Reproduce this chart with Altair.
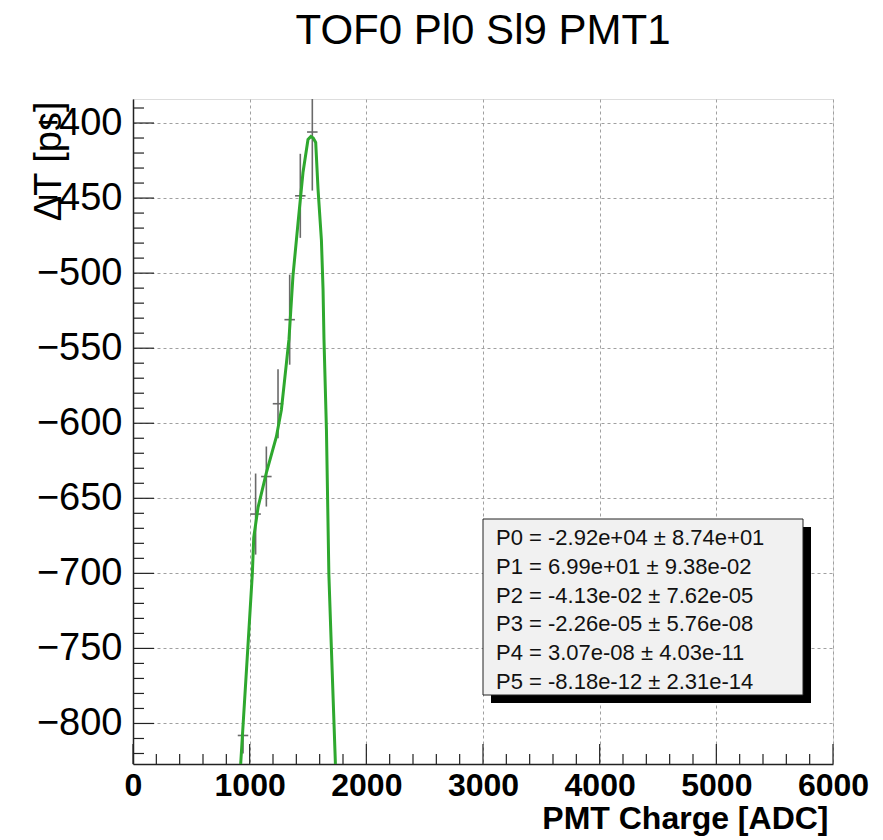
import altair as alt
import pandas as pd

# Profile points: mean PMT charge, mean time offset, error on the mean
pt_x = [943, 1051, 1143, 1243, 1343, 1434, 1537]
pt_y = [-808, -660.5, -635.5, -587, -531, -448.5, -406]
pt_err = [12, 27, 20, 23, 30, 28, 39]
pt_xerr = [45, 45, 45, 45, 45, 45, 45]

# pol5 fit curve sampled along the plotted range
fit_x = [923, 984, 1023, 1035, 1072, 1143, 1229, 1272, 1315, 1337, 1371, 1414,
         1457, 1500, 1525, 1545, 1566, 1586, 1615, 1629, 1637, 1658, 1679, 1700, 1735]
fit_y = [-827, -750, -700, -676, -656, -633, -609, -591, -560, -544, -502, -467,
         -433, -411, -409, -410, -413, -444, -478, -511, -544, -604, -701, -749, -827]

# Fit parameters and their errors
par_names = ["P0", "P1", "P2", "P3", "P4", "P5"]
par_vals = [-2.92e+04, 6.99e+01, -4.13e-02, -2.26e-05, 3.07e-08, -8.18e-12]
par_errs = [8.74e+01, 9.38e-02, 7.62e-05, 5.76e-08, 4.03e-11, 2.31e-14]

# Axis tick values
x_major = [0, 1000, 2000, 3000, 4000, 5000, 6000]
x_minor = [v for v in range(200, 6000, 200) if v % 1000]
y_major = [-800, -750, -700, -650, -600, -550, -500, -450, -400]
y_minor = [v for v in range(-820, -385, 10) if v % 50]

W, H = 700, 665
FONT = "Liberation Sans"

points = pd.DataFrame({"x": pt_x, "y": pt_y, "err": pt_err, "xerr": pt_xerr})
points["lo"] = points["y"] - points["err"]
points["hi"] = points["y"] + points["err"]
points["xl"] = points["x"] - points["xerr"]
points["xh"] = points["x"] + points["xerr"]
fit = pd.DataFrame({"x": fit_x, "y": fit_y})

xs = alt.Scale(domain=[0, 6000], nice=False, zero=False)
ys = alt.Scale(domain=[-827, -384], nice=False, zero=False)

x_axis = alt.Axis(
    values=x_major, format="d", title="PMT Charge [ADC]", ticks=False, domain=True,
    domainColor="#222", domainWidth=1.5,
    labelFont=FONT, labelFontSize=32, labelFontWeight="bold", labelColor="#000",
    labelPadding=6, labelFlush=False, labelOverlap=False,
    titleFont=FONT, titleFontSize=32, titleFontWeight="bold", titleColor="#000",
    titleAnchor="end", titleAlign="right", titleBaseline="alphabetic",
    titleX=W - 5, titleY=64,
    grid=True, gridColor="#a0a0a0", gridDash=[3, 3], gridWidth=1,
)
y_axis = alt.Axis(
    values=y_major, title="ΔT [ps]", ticks=False, domain=True,
    domainColor="#222", domainWidth=1.5,
    labelFont=FONT, labelFontSize=38, labelColor="#000", labelPadding=11,
    labelFlush=False, labelOverlap=False,
    titleFont=FONT, titleFontSize=38, titleFontWeight="normal", titleColor="#000",
    titleAngle=270, titleAlign="right", titleBaseline="top",
    titleX=-103, titleY=2,
    grid=True, gridColor="#a0a0a0", gridDash=[3, 3], gridWidth=1,
)

X = lambda f: alt.X(f, type="quantitative", scale=xs, axis=x_axis)
Y = lambda f: alt.Y(f, type="quantitative", scale=ys, axis=y_axis)

# Vertical and horizontal error bars
err_v = alt.Chart(points).mark_rule(color="#6a6a6a", strokeWidth=1.6, clip=True).encode(
    x=X("x"), y=Y("lo"), y2="hi")
err_h = alt.Chart(points).mark_rule(color="#6a6a6a", strokeWidth=1.6, clip=True).encode(
    x=X("xl"), x2="xh", y=Y("y"))

curve = alt.Chart(fit).mark_line(color="#2ea82e", strokeWidth=3, clip=True).encode(
    x=X("x"), y=Y("y"), order="x:Q")

# Inward ticks on the left and bottom edges
yt_major = alt.Chart(pd.DataFrame({"v": y_major})).mark_rule(color="#222", strokeWidth=1.2).encode(
    y=Y("v"), x=alt.value(0), x2=alt.value(21))
yt_minor = alt.Chart(pd.DataFrame({"v": y_minor})).mark_rule(color="#222", strokeWidth=1.2).encode(
    y=Y("v"), x=alt.value(0), x2=alt.value(11))
xt_major = alt.Chart(pd.DataFrame({"v": x_major})).mark_rule(color="#222", strokeWidth=1.2).encode(
    x=X("v"), y=alt.value(H), y2=alt.value(H - 20))
xt_minor = alt.Chart(pd.DataFrame({"v": x_minor})).mark_rule(color="#222", strokeWidth=1.2).encode(
    x=X("v"), y=alt.value(H), y2=alt.value(H - 10))

# Fit statistics box with drop shadow
stats_text = "\n".join(
    f"{n} = {v:.2e} \u00b1 {e:.2e}" for n, v, e in zip(par_names, par_vals, par_errs))
box_df = pd.DataFrame({"t": [stats_text]})
shadow = alt.Chart(box_df).mark_rect(color="#000").encode(
    x=alt.value(358), x2=alt.value(678), y=alt.value(428), y2=alt.value(604))
box = alt.Chart(box_df).mark_rect(fill="#f1f1f1", stroke="#222", strokeWidth=1).encode(
    x=alt.value(350), x2=alt.value(670), y=alt.value(420), y2=alt.value(596))
text = alt.Chart(box_df).mark_text(
    align="left", baseline="middle", font=FONT, fontSize=22, color="#111",
    lineBreak="\n", lineHeight=28.8,
).encode(x=alt.value(363), y=alt.value(439), text="t:N")

chart = alt.layer(
    err_v, err_h, curve, yt_major, yt_minor, xt_major, xt_minor, shadow, box, text
).properties(
    width=W, height=H,
    title=alt.TitleParams("TOF0 Pl0 Sl9 PMT1", font=FONT, fontSize=42,
                          fontWeight="normal", color="#000", anchor="middle",
                          frame="group", baseline="alphabetic", offset=13),
    padding={"left": 133, "top": 99, "right": 50, "bottom": 76},
    autosize=alt.AutoSizeParams(type="none"),
).configure_view(stroke="#666", strokeWidth=1).configure(background="white")

chart.save("out.html", embed_options={"renderer": "svg", "actions": False})
